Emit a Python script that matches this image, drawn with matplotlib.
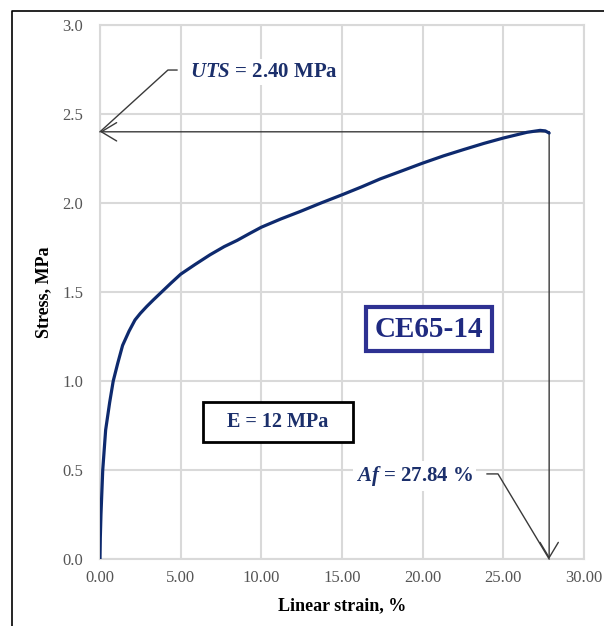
import matplotlib
matplotlib.use("Agg")
import matplotlib.pyplot as plt
from matplotlib.lines import Line2D
from matplotlib.patches import Rectangle

plt.rcParams["mathtext.fontset"] = "custom"
plt.rcParams["mathtext.it"] = "Liberation Serif:italic:bold"
plt.rcParams["mathtext.rm"] = "Liberation Serif:bold"
plt.rcParams["mathtext.bf"] = "Liberation Serif:bold"

strain = [0.0, 0.02, 0.06, 0.17, 0.35, 0.60, 0.82, 1.10, 1.40, 1.80, 2.17, 2.50, 2.89,
          3.30, 3.82, 4.40, 5.00, 5.90, 6.82, 7.70, 8.50, 9.30, 10.00, 11.20, 12.40,
          13.70, 15.00, 16.20, 17.36, 18.70, 20.00, 21.30, 22.53, 23.80, 25.00,
          26.46, 27.28, 27.60, 27.84]
stress = [0.0, 0.12, 0.25, 0.50, 0.725, 0.88, 1.00, 1.10, 1.20, 1.28, 1.343, 1.38, 1.418,
          1.455, 1.50, 1.55, 1.600, 1.655, 1.709, 1.755, 1.79, 1.83, 1.864, 1.91, 1.952,
          2.00, 2.046, 2.09, 2.135, 2.18, 2.224, 2.265, 2.30, 2.335, 2.365,
          2.397, 2.408, 2.405, 2.393]

uts = 2.40
af = 27.84
x_ticks = [0, 5, 10, 15, 20, 25, 30]
y_ticks = [0.0, 0.5, 1.0, 1.5, 2.0, 2.5, 3.0]

navy = "#1b2f6b"
curve_col = "#0e2a6e"
arrow_col = "#3a3a3a"
serif = ["Liberation Serif", "DejaVu Serif"]

fig = plt.figure(figsize=(6.04, 6.26), dpi=100)
ax = fig.add_axes([100/604, 1-559/626, 484/604, 534/626])

ax.plot(strain, stress, color=curve_col, lw=2.3, solid_capstyle="round",
        solid_joinstyle="round", zorder=5)

ax.set_xlim(0, 30)
ax.set_ylim(0, 3.0)
ax.set_xticks(x_ticks)
ax.set_yticks(y_ticks)
ax.set_xticklabels([f"{v:.2f}" for v in x_ticks], fontfamily=serif, fontsize=12, color="#555555")
ax.set_yticklabels([f"{v:.1f}" for v in y_ticks], fontfamily=serif, fontsize=12, color="#555555")
ax.tick_params(axis="x", length=0, pad=8)
ax.tick_params(axis="y", length=0, pad=12)
ax.grid(True, color="#d9d9d9", lw=1.5)
ax.set_axisbelow(True)
for s in ax.spines.values():
    s.set_color("#d9d9d9")
    s.set_linewidth(1.5)

ax.set_xlabel("Linear strain, %", fontfamily=serif, fontsize=13, fontweight="bold", labelpad=8)
ax.set_ylabel("Stress, MPa", fontfamily=serif, fontsize=13, fontweight="bold", labelpad=7)

# UTS horizontal and Af vertical arrows
ap = dict(arrowstyle="->,head_length=0.55,head_width=0.33", color=arrow_col, lw=1.0,
          shrinkA=0, shrinkB=0, mutation_scale=20)
ax.annotate("", xy=(0, uts), xytext=(af, uts), arrowprops=ap, annotation_clip=False, zorder=4)
ax.annotate("", xy=(af, 0), xytext=(af, uts), arrowprops=ap, annotation_clip=False, zorder=4)

# leader lines
ax.plot([4.77, 4.21, 0.0], [2.747, 2.747, uts], color=arrow_col, lw=1.0, clip_on=False, zorder=4)
ax.plot([23.99, 24.67, af], [0.478, 0.478, 0.0], color=arrow_col, lw=1.0, clip_on=False, zorder=4)

ax.text(5.58, 2.736, r"$\mathit{UTS}$" + " = 2.40 MPa", fontfamily=serif, fontsize=15,
        fontweight="bold", color=navy, ha="left", va="center", zorder=6,
        bbox=dict(facecolor="white", edgecolor="none", pad=2))
ax.text(23.12, 0.466, r"$\mathit{Af}$" + " = 27.84 %", fontfamily=serif, fontsize=15,
        fontweight="bold", color=navy, ha="right", va="center", zorder=6,
        bbox=dict(facecolor="white", edgecolor="none", pad=2))

ax.text(20.39, 1.292, "CE65-14", fontfamily=serif, fontsize=21, fontweight="bold", color="#1f2a80",
        ha="center", va="center", zorder=6,
        bbox=dict(facecolor="white", edgecolor="#2e3192", lw=3, boxstyle="square,pad=0.3"))

ax.add_patch(Rectangle((6.38, 0.657), 15.68 - 6.38, 0.882 - 0.657, facecolor="white",
                       edgecolor="black", lw=2, zorder=6))
ax.text(11.03, 0.768, "E = 12 MPa", fontfamily=serif, fontsize=14.5, fontweight="bold", color=navy,
        ha="center", va="center", zorder=7)

# outer border (partial frame)
W, H = 604, 626
fig.add_artist(Line2D([12/W, 12/W, 1.0], [0.0, 1-11/H, 1-11/H], transform=fig.transFigure,
                      color="black", lw=1.2))

fig.savefig("out.png", dpi=100)
